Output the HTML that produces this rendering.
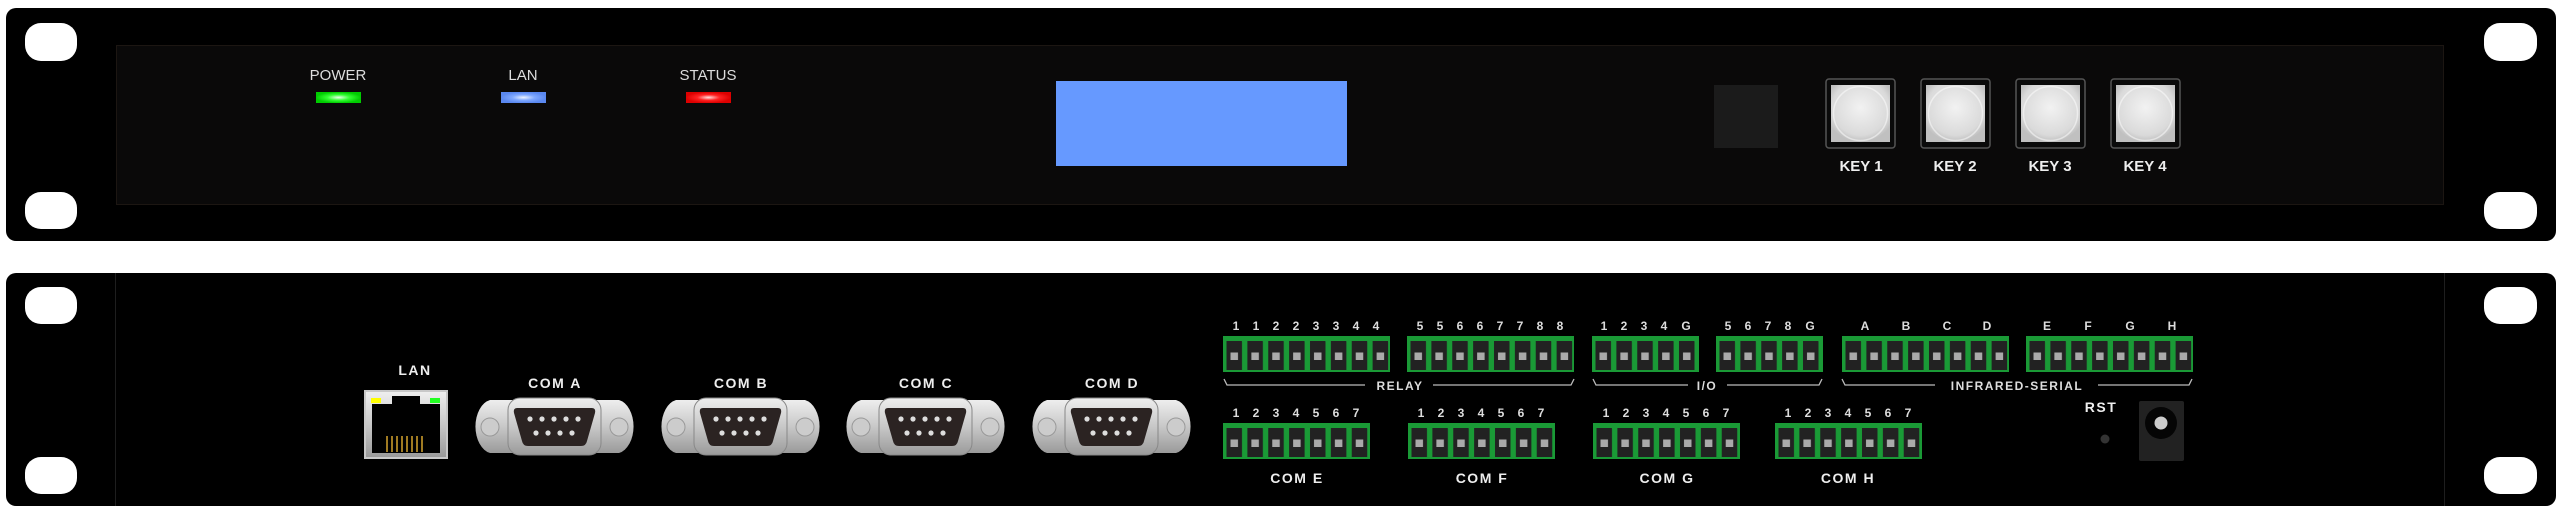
<!DOCTYPE html>
<html><head><meta charset="utf-8"><style>
html,body{margin:0;padding:0;background:#fff;}
svg{display:block;}
.f{font-family:"Liberation Sans",sans-serif;}
</style></head><body>
<svg width="2560" height="514" viewBox="0 0 2560 514" xmlns="http://www.w3.org/2000/svg">
<defs>
<pattern id="cell" patternUnits="userSpaceOnUse" width="20.875" height="36">
<rect width="20.875" height="36" fill="#1a9a36"/>
<rect x="3.5" y="5" width="15.5" height="29" fill="#222"/>
<polygon points="0.5,1 3,6 -2,6" fill="#1a9a36"/>
<polygon points="21.3,1 24,6 18.8,6" fill="#1a9a36"/>
<rect x="7.5" y="16.5" width="7.5" height="7.5" fill="#aaa"/>
</pattern>
<linearGradient id="silver" x1="0" y1="0" x2="0" y2="1"><stop offset="0" stop-color="#eee"/><stop offset="0.5" stop-color="#c8c8c8"/><stop offset="1" stop-color="#9a9a9a"/></linearGradient>
<radialGradient id="key" cx="0.5" cy="0.4" r="0.6"><stop offset="0" stop-color="#f2f2f2"/><stop offset="0.8" stop-color="#dadada"/><stop offset="1" stop-color="#c0c0c0"/></radialGradient>
<radialGradient id="ledg" cx="0.5" cy="0.5" r="0.5"><stop offset="0" stop-color="#eaffea"/><stop offset="0.5" stop-color="#33ff33"/><stop offset="1" stop-color="#00cc00"/></radialGradient>
<radialGradient id="ledb" cx="0.5" cy="0.5" r="0.5"><stop offset="0" stop-color="#eef4ff"/><stop offset="0.5" stop-color="#7fa8ff"/><stop offset="1" stop-color="#5a88f0"/></radialGradient>
<radialGradient id="ledr" cx="0.5" cy="0.5" r="0.5"><stop offset="0" stop-color="#ffe0e0"/><stop offset="0.5" stop-color="#ff2222"/><stop offset="1" stop-color="#dd0000"/></radialGradient>
<g id="db9">
<path d="M18,0 H147 A18,27 0 0 1 147,53 H18 A18,27 0 0 1 18,0 Z" fill="url(#silver)"/>
<rect x="36" y="-2" width="93" height="57" rx="12" fill="url(#silver)" stroke="#888" stroke-width="1"/>
<path d="M45,8 H120 Q124,8 123,13 L115,41 Q114,46 109,46 H56 Q51,46 50,41 L42,13 Q41,8 45,8 Z" fill="#2b2322"/>
<circle cx="18" cy="27" r="9" fill="#ccc" stroke="#999"/>
<circle cx="147" cy="27" r="9" fill="#ccc" stroke="#999"/>
<g fill="#ddd"><circle cx="58" cy="19" r="2.6"/><circle cx="70" cy="19" r="2.6"/><circle cx="82" cy="19" r="2.6"/><circle cx="94" cy="19" r="2.6"/><circle cx="106" cy="19" r="2.6"/>
<circle cx="64" cy="33" r="2.6"/><circle cx="76" cy="33" r="2.6"/><circle cx="88" cy="33" r="2.6"/><circle cx="100" cy="33" r="2.6"/></g>
</g>
<g id="keyb">
<rect x="0" y="0" width="69" height="69" rx="3" fill="#0a0a0a" stroke="#555" stroke-width="1.5"/>
<rect x="5" y="6" width="59" height="57" fill="url(#key)"/>
<circle cx="34.5" cy="34.5" r="27" fill="none" stroke="#fff" stroke-opacity="0.5" stroke-width="1.5"/>
</g>
</defs>
<rect width="2560" height="514" fill="#fff"/>
<!-- Front panel -->
<rect x="6" y="8" width="2550" height="233" rx="10" fill="#000"/>
<rect x="116.5" y="45.5" width="2327" height="159" fill="#0a0909" stroke="#1c1612"/>
<g fill="#fff">
<rect x="25" y="23" width="52" height="38" rx="16"/><rect x="25" y="192" width="52" height="37" rx="16"/>
<rect x="2484" y="23" width="53" height="38" rx="16"/><rect x="2484" y="192" width="53" height="37" rx="16"/>
</g>
<g class="f" font-size="15" fill="#ddd" text-anchor="middle">
<text x="338" y="80">POWER</text><text x="523" y="80">LAN</text><text x="708" y="80">STATUS</text>
</g>
<rect x="316" y="92" width="45" height="11" fill="url(#ledg)"/>
<rect x="501" y="92" width="45" height="11" fill="url(#ledb)"/>
<rect x="686" y="92" width="45" height="11" fill="url(#ledr)"/>
<rect x="1056" y="81" width="291" height="85" fill="#6699ff"/>
<rect x="1714" y="85" width="64" height="63" fill="#1b1b1b"/>
<use href="#keyb" x="1826" y="79"/><use href="#keyb" x="1921" y="79"/><use href="#keyb" x="2016" y="79"/><use href="#keyb" x="2111" y="79"/>
<g class="f" font-size="15" font-weight="bold" fill="#eee" text-anchor="middle">
<text x="1861" y="171">KEY 1</text><text x="1955" y="171">KEY 2</text><text x="2050" y="171">KEY 3</text><text x="2145" y="171">KEY 4</text>
</g>
<!-- Rear panel -->
<rect x="6" y="273" width="2550" height="233" rx="10" fill="#000"/>
<line x1="115.5" y1="273" x2="115.5" y2="506" stroke="#1e1e1e"/>
<line x1="2444.5" y1="273" x2="2444.5" y2="506" stroke="#1e1e1e"/>
<g fill="#fff">
<rect x="25" y="287" width="52" height="37" rx="16"/><rect x="25" y="457" width="52" height="37" rx="16"/>
<rect x="2484" y="287" width="53" height="37" rx="16"/><rect x="2484" y="457" width="53" height="37" rx="16"/>
</g>
<!-- LAN jack -->
<rect x="364" y="390" width="84" height="69" fill="#c8c8c8"/>
<rect x="366" y="392" width="80" height="65" fill="url(#silver)"/>
<path d="M372,404 H392 V396 H420 V404 H440 V453 H372 Z" fill="#000"/>
<rect x="371" y="398" width="10" height="5" fill="#ff0"/>
<rect x="430" y="398" width="10" height="5" fill="#2f2"/>
<g stroke="#c89a2a" stroke-width="1.6"><line x1="387" y1="436" x2="387" y2="452"/><line x1="392" y1="436" x2="392" y2="452"/><line x1="397" y1="436" x2="397" y2="452"/><line x1="402" y1="436" x2="402" y2="452"/><line x1="407" y1="436" x2="407" y2="452"/><line x1="412" y1="436" x2="412" y2="452"/><line x1="417" y1="436" x2="417" y2="452"/><line x1="422" y1="436" x2="422" y2="452"/></g>
<!-- DB9 -->
<use href="#db9" x="472" y="400"/><use href="#db9" x="658" y="400"/><use href="#db9" x="843" y="400"/><use href="#db9" x="1029" y="400"/>
<g class="f" font-size="14" font-weight="bold" fill="#eee" text-anchor="middle" letter-spacing="1.5">
<text x="415" y="375">LAN</text>
<text x="555" y="388">COM A</text><text x="741" y="388">COM B</text><text x="926" y="388">COM C</text><text x="1112" y="388">COM D</text>
<text x="1297" y="483">COM E</text><text x="1482" y="483">COM F</text><text x="1667" y="483">COM G</text><text x="1848" y="483">COM H</text>
<text x="2101" y="412">RST</text>
</g>
<!-- terminal blocks row 1 -->
<svg x="1223" y="336" width="167" height="36"><rect width="167" height="36" fill="url(#cell)"/></svg>
<svg x="1407" y="336" width="167" height="36"><rect width="167" height="36" fill="url(#cell)"/></svg>
<svg x="1592" y="336" width="107" height="36"><rect width="107" height="36" fill="url(#cell)"/></svg>
<svg x="1716" y="336" width="107" height="36"><rect width="107" height="36" fill="url(#cell)"/></svg>
<svg x="1842" y="336" width="167" height="36"><rect width="167" height="36" fill="url(#cell)"/></svg>
<svg x="2026" y="336" width="167" height="36"><rect width="167" height="36" fill="url(#cell)"/></svg>
<!-- row 2 -->
<svg x="1223" y="423" width="147" height="36"><rect width="147" height="36" fill="url(#cell)"/></svg>
<svg x="1408" y="423" width="147" height="36"><rect width="147" height="36" fill="url(#cell)"/></svg>
<svg x="1593" y="423" width="147" height="36"><rect width="147" height="36" fill="url(#cell)"/></svg>
<svg x="1775" y="423" width="147" height="36"><rect width="147" height="36" fill="url(#cell)"/></svg>
<g class="f" font-size="12" font-weight="bold" fill="#ddd" text-anchor="middle">
<text x="1236 1256 1276 1296 1316 1336 1356 1376" y="330">11223344</text>
<text x="1420 1440 1460 1480 1500 1520 1540 1560" y="330">55667788</text>
<text x="1604 1624 1644 1664 1686" y="330">1234G</text>
<text x="1728 1748 1768 1788 1810" y="330">5678G</text>
<text x="1865 1906 1947 1987" y="330">ABCD</text>
<text x="2047 2088 2130 2172" y="330">EFGH</text>
<text x="1236 1256 1276 1296 1316 1336 1356" y="417">1234567</text>
<text x="1421 1441 1461 1481 1501 1521 1541" y="417">1234567</text>
<text x="1606 1626 1646 1666 1686 1706 1726" y="417">1234567</text>
<text x="1788 1808 1828 1848 1868 1888 1908" y="417">1234567</text>
</g>
<g fill="none" stroke="#bbb" stroke-width="1.3">
<path d="M1224,379 L1227,385 H1365"/><path d="M1433,385 H1571 L1574,379"/>
<path d="M1593,379 L1596,385 H1688"/><path d="M1727,385 H1819 L1822,379"/>
<path d="M1842,379 L1845,385 H1935"/><path d="M2098,385 H2189 L2192,379"/>
</g>
<g class="f" font-size="12" font-weight="bold" fill="#ddd" text-anchor="middle" letter-spacing="1.5">
<text x="1400" y="390">RELAY</text><text x="1707" y="390">I/O</text><text x="2017" y="390">INFRARED-SERIAL</text>
</g>
<circle cx="2105" cy="439" r="4.5" fill="#333"/>
<rect x="2139" y="401" width="45" height="60" rx="2" fill="#222"/>
<circle cx="2161" cy="423" r="16" fill="#050505"/>
<circle cx="2161" cy="423" r="6.5" fill="#ccc"/>
</svg>
</body></html>
